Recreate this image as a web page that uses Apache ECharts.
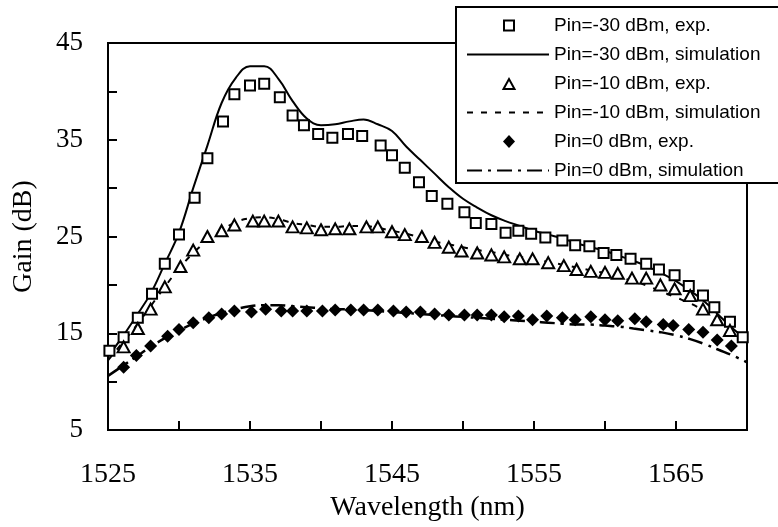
<!DOCTYPE html>
<html>
<head>
<meta charset="utf-8">
<script src="https://cdn.jsdelivr.net/npm/echarts@6/dist/echarts.min.js"></script>
<style>
    html, body { margin: 0; padding: 0; background: #fff; }
    #chart { width: 778px; height: 527px; }
</style>
</head>
<body>
<div id="chart"></div>
<script>
// Pin=-30 dBm, exp. (squares)
const sqWavelength = [1525.1, 1526.1, 1527.1, 1528.1, 1529.0, 1530.0, 1531.1, 1532.0, 1533.1, 1533.9, 1535.0, 1536.0, 1537.1, 1538.0, 1538.8, 1539.8, 1540.8, 1541.9, 1542.9, 1544.2, 1545.0, 1545.9, 1546.9, 1547.8, 1548.9, 1550.1, 1550.9, 1552.0, 1553.0, 1553.9, 1554.8, 1555.8, 1557.0, 1557.9, 1558.9, 1559.9, 1560.8, 1561.8, 1562.9, 1563.8, 1564.9, 1565.9, 1566.9, 1567.7, 1568.8, 1569.7];
const sqGain = [13.2, 14.6, 16.6, 19.1, 22.2, 25.2, 29.0, 33.1, 36.9, 39.7, 40.6, 40.8, 39.4, 37.5, 36.5, 35.6, 35.2, 35.6, 35.4, 34.4, 33.4, 32.1, 30.6, 29.2, 28.4, 27.5, 26.4, 26.3, 25.4, 25.6, 25.3, 24.9, 24.6, 24.1, 24.0, 23.3, 23.1, 22.7, 22.2, 21.6, 21.0, 19.9, 18.9, 17.7, 16.2, 14.6];

// Pin=-10 dBm, exp. (triangles)
const triWavelength = [1526.1, 1527.1, 1528.0, 1529.0, 1530.1, 1531.0, 1532.0, 1533.0, 1533.9, 1535.2, 1536.0, 1537.0, 1538.0, 1539.0, 1540.0, 1541.0, 1542.0, 1543.2, 1544.0, 1545.0, 1545.9, 1547.1, 1548.0, 1549.0, 1549.9, 1551.0, 1552.0, 1552.9, 1554.0, 1554.9, 1556.0, 1557.1, 1558.0, 1559.0, 1560.0, 1560.9, 1561.9, 1562.9, 1563.9, 1564.9, 1566.0, 1566.9, 1567.9, 1568.8];
const triGain = [13.6, 15.5, 17.5, 19.8, 21.9, 23.6, 25.0, 25.6, 26.2, 26.6, 26.6, 26.6, 26.0, 25.9, 25.7, 25.8, 25.8, 26.0, 26.0, 25.5, 25.2, 25.0, 24.4, 23.9, 23.5, 23.3, 23.1, 22.9, 22.7, 22.7, 22.3, 22.0, 21.6, 21.4, 21.3, 21.2, 20.7, 20.7, 20.0, 19.6, 18.9, 17.5, 16.4, 15.3];

// Pin=0 dBm, exp. (diamonds)
const diaWavelength = [1526.1, 1527.0, 1528.0, 1529.2, 1530.0, 1531.0, 1532.1, 1533.0, 1533.9, 1535.1, 1536.1, 1537.2, 1538.0, 1539.0, 1540.1, 1541.0, 1542.1, 1543.0, 1544.0, 1545.1, 1546.0, 1547.0, 1548.0, 1549.0, 1550.1, 1551.0, 1552.0, 1552.9, 1553.9, 1554.9, 1555.9, 1557.0, 1557.9, 1559.0, 1560.0, 1560.9, 1562.1, 1562.9, 1564.1, 1564.8, 1565.9, 1566.9, 1567.9, 1568.9];
const diaGain = [11.5, 12.7, 13.7, 14.7, 15.4, 16.1, 16.6, 17.0, 17.3, 17.2, 17.5, 17.3, 17.3, 17.3, 17.3, 17.4, 17.4, 17.4, 17.4, 17.3, 17.2, 17.2, 17.0, 16.9, 16.9, 16.9, 16.9, 16.7, 16.8, 16.4, 16.8, 16.6, 16.4, 16.7, 16.4, 16.3, 16.5, 16.2, 15.9, 15.8, 15.4, 15.1, 14.3, 13.7];

// simulation curves, read every 1 nm
const simWavelength = [1525, 1526, 1527, 1528, 1529, 1530, 1531, 1532, 1533, 1534, 1535, 1536, 1537, 1538, 1539, 1540, 1541, 1542, 1543, 1544, 1545, 1546, 1547, 1548, 1549, 1550, 1551, 1552, 1553, 1554, 1555, 1556, 1557, 1558, 1559, 1560, 1561, 1562, 1563, 1564, 1565, 1566, 1567, 1568, 1569, 1570];
const sim30Gain = [12.6, 14.6, 16.8, 19.1, 22.2, 25.4, 30.0, 34.4, 38.8, 41.4, 42.6, 42.6, 41.3, 39.0, 37.2, 36.5, 36.6, 36.9, 37.1, 36.6, 35.9, 34.3, 32.9, 31.5, 30.1, 28.9, 28.0, 27.2, 26.6, 26.1, 25.6, 25.2, 24.8, 24.3, 23.9, 23.5, 23.0, 22.5, 21.9, 21.2, 20.4, 19.4, 18.3, 16.9, 15.5, 14.3];
const sim10Gain = [12.2, 14.0, 15.8, 17.8, 19.8, 21.7, 23.3, 24.6, 25.6, 26.5, 26.9, 27.0, 26.8, 26.4, 26.2, 26.0, 26.0, 26.1, 26.1, 25.9, 25.6, 25.3, 24.9, 24.5, 24.2, 23.9, 23.6, 23.4, 23.1, 22.9, 22.6, 22.4, 22.1, 21.8, 21.5, 21.2, 20.8, 20.4, 19.9, 19.3, 18.7, 18.1, 17.3, 16.4, 15.4, 14.3];
const sim0Gain = [10.6, 11.6, 12.6, 13.6, 14.5, 15.3, 16.0, 16.6, 17.1, 17.5, 17.8, 17.9, 17.9, 17.8, 17.7, 17.6, 17.5, 17.5, 17.4, 17.3, 17.2, 17.1, 17.0, 16.9, 16.8, 16.7, 16.6, 16.5, 16.4, 16.3, 16.2, 16.1, 16.0, 15.9, 15.9, 15.8, 15.7, 15.5, 15.3, 15.1, 14.8, 14.4, 13.9, 13.3, 12.7, 12.0];

const legendNames = ['Pin=-30 dBm, exp.', 'Pin=-30 dBm, simulation', 'Pin=-10 dBm, exp.', 'Pin=-10 dBm, simulation', 'Pin=0 dBm, exp.', 'Pin=0 dBm, simulation'];

function pairs(xs, ys) {
    return xs.map((x, i) => [x, ys[i]]);
}

const chart = echarts.init(document.getElementById('chart'));

const serif = 'Liberation Serif';

// legend icons are stretched to itemWidth x itemHeight, so the marker paths
// carry two bare moveTo corners (0,0 and 82,13) to keep their own size
const legendData = [
    { name: legendNames[0], icon: 'path://M0,0M82,13M37,1.5L47,1.5L47,11.5L37,11.5Z' },
    { name: legendNames[1], itemStyle: { opacity: 0 } },
    { name: legendNames[2], icon: 'path://M0,0M82,13M36.5,12L42,2L47.5,12Z' },
    { name: legendNames[3], itemStyle: { opacity: 0 } },
    { name: legendNames[4], icon: 'path://M0,0M82,13M36,6.5L42,0L48,6.5L42,13Z' },
    { name: legendNames[5], itemStyle: { opacity: 0 } }
];

const option = {
    backgroundColor: '#fff',
    animation: false,
    grid: {
        left: 108,
        right: 31,
        top: 43,
        bottom: 93,
        show: true,
        borderColor: '#000',
        borderWidth: 2
    },
    // legend frame runs past the right edge of the picture
    graphic: [{
        type: 'polyline',
        z: 3,
        shape: { points: [[800, 7], [456, 7], [456, 183], [800, 183]] },
        style: { fill: '#fff', stroke: '#000', lineWidth: 2 }
    }],
    legend: {
        orient: 'vertical',
        z: 5,
        left: 454,
        top: 7,
        padding: [9, 10, 4, 12],
        itemWidth: 82,
        itemHeight: 13,
        itemGap: 10,
        data: legendData,
        textStyle: {
            fontFamily: 'Liberation Sans',
            fontSize: 19,
            color: '#000'
        }
    },
    xAxis: {
        type: 'value',
        min: 1525,
        max: 1570,
        interval: 5,
        name: 'Wavelength (nm)',
        nameLocation: 'middle',
        nameGap: 60,
        nameTextStyle: { fontFamily: serif, fontSize: 28, color: '#000' },
        axisLine: { lineStyle: { color: '#000', width: 2 } },
        axisTick: { inside: true, length: 9, lineStyle: { color: '#000', width: 2 } },
        splitLine: { show: false },
        axisLabel: {
            margin: 31,
            fontFamily: serif,
            fontSize: 28,
            color: '#000',
            formatter: function (v) {
                return ((v - 1525) % 10 === 0 && v < 1570) ? String(v) : '';
            }
        }
    },
    yAxis: {
        type: 'value',
        min: 5,
        max: 45,
        interval: 5,
        name: 'Gain (dB)',
        nameLocation: 'middle',
        nameGap: 70,
        nameTextStyle: { fontFamily: serif, fontSize: 28, color: '#000' },
        axisLine: { lineStyle: { color: '#000', width: 2 } },
        axisTick: { inside: true, length: 9, lineStyle: { color: '#000', width: 2 } },
        splitLine: { show: false },
        axisLabel: {
            margin: 25,
            fontFamily: serif,
            fontSize: 27,
            color: '#000',
            formatter: function (v) {
                return (v - 5) % 10 === 0 ? String(v) : '';
            }
        }
    },
    series: [
        {
            name: legendNames[0],
            type: 'scatter',
            z: 4,
            symbol: 'rect',
            symbolSize: 10,
            itemStyle: { color: '#fff', borderColor: '#000', borderWidth: 2, opacity: 1 },
            data: pairs(sqWavelength, sqGain)
        },
        {
            name: legendNames[1],
            type: 'line',
            z: 2,
            smooth: 0.4,
            symbol: 'none',
            lineStyle: { color: '#000', width: 2, type: 'solid' },
            itemStyle: { color: '#000' },
            data: pairs(simWavelength, sim30Gain)
        },
        {
            name: legendNames[2],
            type: 'scatter',
            z: 4,
            symbol: 'triangle',
            symbolSize: [12, 11],
            itemStyle: { color: '#fff', borderColor: '#000', borderWidth: 2, opacity: 1 },
            data: pairs(triWavelength, triGain)
        },
        {
            name: legendNames[3],
            type: 'line',
            z: 2,
            smooth: 0.4,
            symbol: 'none',
            lineStyle: { color: '#000', width: 2, type: [6, 8] },
            itemStyle: { color: '#000' },
            data: pairs(simWavelength, sim10Gain)
        },
        {
            name: legendNames[4],
            type: 'scatter',
            z: 4,
            symbol: 'diamond',
            symbolSize: 13,
            itemStyle: { color: '#000', opacity: 1 },
            data: pairs(diaWavelength, diaGain)
        },
        {
            name: legendNames[5],
            type: 'line',
            z: 2,
            smooth: 0.4,
            symbol: 'none',
            lineStyle: { color: '#000', width: 2.5, type: [15, 6, 3, 6] },
            itemStyle: { color: '#000' },
            data: pairs(simWavelength, sim0Gain)
        }
    ]
};

chart.setOption(option);
</script>
</body>
</html>
